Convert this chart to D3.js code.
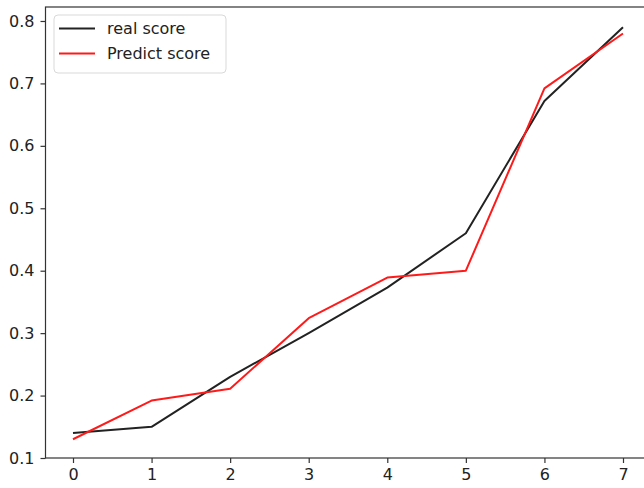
<!DOCTYPE html>
<html>
<head>
<meta charset="utf-8">
<script src="https://cdn.jsdelivr.net/npm/d3@7"></script>
<style>
  html, body { margin: 0; padding: 0; background: #fff; }
  svg { display: block; }
  text { font-family: "DejaVu Sans", sans-serif; fill: #222; }
</style>
</head>
<body>
<svg id="chart" width="644" height="488"></svg>
<script>
// Scores per sample index
const steps = [0, 1, 2, 3, 4, 5, 6, 7];
const realScore = [0.14, 0.15, 0.23, 0.30, 0.373, 0.46, 0.672, 0.79];
const predictScore = [0.13, 0.192, 0.211, 0.324, 0.389, 0.40, 0.692, 0.78];
const xTicks = [0, 1, 2, 3, 4, 5, 6, 7];
const yTicks = [0.1, 0.2, 0.3, 0.4, 0.5, 0.6, 0.7, 0.8];
const xLimits = [-0.35, 7.35];
const yLimits = [0.1, 0.8224];
const seriesNames = ["real score", "Predict score"];
const seriesColors = ["#222222", "#ff1a1a"];

const svg = d3.select("#chart");
const plot = { left: 45.5, right: 650.5, top: 7, bottom: 458 };

const x = d3.scaleLinear().domain(xLimits).range([plot.left, plot.right]);
const y = d3.scaleLinear().domain(yLimits).range([plot.bottom, plot.top]);

// Frame
svg.append("rect")
  .attr("x", plot.left).attr("y", plot.top)
  .attr("width", plot.right - plot.left).attr("height", plot.bottom - plot.top)
  .attr("fill", "none").attr("stroke", "#333").attr("stroke-width", 1.2);

// Axes
const xAxis = svg.append("g")
  .attr("transform", `translate(0,${plot.bottom})`)
  .call(d3.axisBottom(x).tickValues(xTicks).tickSize(5).tickPadding(6).tickFormat(d3.format("d")));
const yAxis = svg.append("g")
  .attr("transform", `translate(${plot.left},0)`)
  .call(d3.axisLeft(y).tickValues(yTicks).tickSize(5).tickPadding(6).tickFormat(d3.format(".1f")));

[xAxis, yAxis].forEach(g => {
  g.select(".domain").remove();
  g.selectAll(".tick line").attr("stroke", "#333").attr("stroke-width", 1.2);
  g.selectAll(".tick text").attr("font-size", 16).attr("fill", "#222");
});

// Series lines
const line = d3.line().x((d, i) => x(steps[i])).y(d => y(d));
[realScore, predictScore].forEach((vals, k) => {
  svg.append("path")
    .datum(vals)
    .attr("d", line)
    .attr("fill", "none")
    .attr("stroke", seriesColors[k])
    .attr("stroke-width", 2)
    .attr("stroke-linejoin", "round");
});

// Legend
const legend = svg.append("g");
legend.append("rect")
  .attr("x", 54).attr("y", 15).attr("width", 172).attr("height", 58)
  .attr("rx", 4).attr("fill", "#fff").attr("fill-opacity", 0.8)
  .attr("stroke", "#d9d9d9").attr("stroke-width", 1);
seriesNames.forEach((name, k) => {
  const ly = 28.5 + k * 25;
  legend.append("line")
    .attr("x1", 59).attr("x2", 95).attr("y1", ly).attr("y2", ly)
    .attr("stroke", seriesColors[k]).attr("stroke-width", 2);
  legend.append("text")
    .attr("x", 107).attr("y", ly).attr("dy", "0.35em")
    .attr("font-size", 16).text(name);
});
</script>
</body>
</html>
